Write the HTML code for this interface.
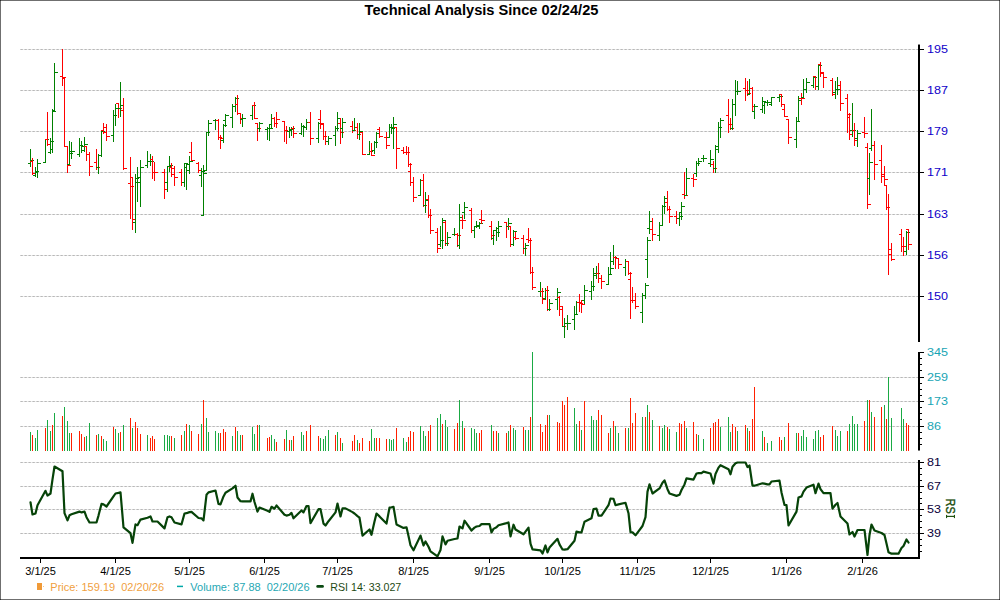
<!DOCTYPE html>
<html><head><meta charset="utf-8"><title>Technical Analysis</title>
<style>html,body{margin:0;padding:0;background:#fff;}svg{display:block;}text{font-family:"Liberation Sans",sans-serif;}</style>
</head><body>
<svg width="1000" height="600" viewBox="0 0 1000 600">
<rect x="0" y="0" width="1000" height="600" fill="#fff"/>
<g shape-rendering="crispEdges" fill="#6f6f6f">
<rect x="0" y="0" width="1000" height="1"/><rect x="0" y="599" width="1000" height="1"/>
<rect x="0" y="0" width="1" height="600"/><rect x="999" y="0" width="1" height="600"/>
</g>
<g shape-rendering="crispEdges" fill="#303030"><rect x="0" y="0" width="1" height="1"/><rect x="999" y="0" width="1" height="1"/><rect x="0" y="599" width="1" height="1"/><rect x="999" y="599" width="1" height="1"/></g>
<text x="481.5" y="14.6" text-anchor="middle" font-size="14.62px" font-weight="bold" fill="#000">Technical Analysis Since 02/24/25</text>
<defs><pattern id="gp" x="20" y="0" width="4" height="1" patternUnits="userSpaceOnUse"><rect x="0" y="0" width="1" height="1" fill="#d0d0d0"/><rect x="1" y="0" width="1" height="1" fill="#b8b8b8"/><rect x="2" y="0" width="1" height="1" fill="#c4c4c4"/><rect x="3" y="0" width="1" height="1" fill="#efefef"/></pattern></defs>
<g shape-rendering="crispEdges" fill="url(#gp)">
<rect x="20" y="49" width="898" height="1"/>
<rect x="20" y="90" width="898" height="1"/>
<rect x="20" y="131" width="898" height="1"/>
<rect x="20" y="172" width="898" height="1"/>
<rect x="20" y="214" width="898" height="1"/>
<rect x="20" y="255" width="898" height="1"/>
<rect x="20" y="296" width="898" height="1"/>
<rect x="20" y="377" width="898" height="1"/>
<rect x="20" y="401" width="898" height="1"/>
<rect x="20" y="426" width="898" height="1"/>
<rect x="20" y="462" width="898" height="1"/>
<rect x="20" y="486" width="898" height="1"/>
<rect x="20" y="509" width="898" height="1"/>
<rect x="20" y="533" width="898" height="1"/>
</g>
<g shape-rendering="crispEdges">
<rect x="30" y="432" width="1" height="19" fill="#1aaa44"/>
<rect x="32" y="435" width="1" height="16" fill="#ff2000"/>
<rect x="35" y="438" width="1" height="13" fill="#1aaa44"/>
<rect x="37" y="430" width="1" height="21" fill="#1aaa44"/>
<rect x="45" y="428" width="1" height="23" fill="#ff2000"/>
<rect x="47" y="420" width="1" height="31" fill="#1aaa44"/>
<rect x="50" y="431" width="1" height="20" fill="#1aaa44"/>
<rect x="52" y="425" width="1" height="26" fill="#ff2000"/>
<rect x="54" y="413" width="1" height="38" fill="#1aaa44"/>
<rect x="62" y="416" width="1" height="35" fill="#ff2000"/>
<rect x="64" y="407" width="1" height="44" fill="#1aaa44"/>
<rect x="67" y="421" width="1" height="30" fill="#1aaa44"/>
<rect x="69" y="433" width="1" height="18" fill="#1aaa44"/>
<rect x="71" y="433" width="1" height="18" fill="#ff2000"/>
<rect x="79" y="431" width="1" height="20" fill="#ff2000"/>
<rect x="81" y="434" width="1" height="17" fill="#ff2000"/>
<rect x="84" y="437" width="1" height="14" fill="#ff2000"/>
<rect x="86" y="436" width="1" height="15" fill="#1aaa44"/>
<rect x="89" y="423" width="1" height="28" fill="#1aaa44"/>
<rect x="96" y="435" width="1" height="16" fill="#ff2000"/>
<rect x="98" y="434" width="1" height="17" fill="#1aaa44"/>
<rect x="101" y="436" width="1" height="15" fill="#ff2000"/>
<rect x="103" y="439" width="1" height="12" fill="#1aaa44"/>
<rect x="106" y="441" width="1" height="10" fill="#1aaa44"/>
<rect x="113" y="427" width="1" height="24" fill="#ff2000"/>
<rect x="115" y="429" width="1" height="22" fill="#1aaa44"/>
<rect x="118" y="433" width="1" height="18" fill="#1aaa44"/>
<rect x="120" y="432" width="1" height="19" fill="#ff2000"/>
<rect x="123" y="425" width="1" height="26" fill="#1aaa44"/>
<rect x="130" y="418" width="1" height="33" fill="#ff2000"/>
<rect x="132" y="428" width="1" height="23" fill="#1aaa44"/>
<rect x="135" y="422" width="1" height="29" fill="#ff2000"/>
<rect x="137" y="428" width="1" height="23" fill="#ff2000"/>
<rect x="140" y="434" width="1" height="17" fill="#ff2000"/>
<rect x="147" y="435" width="1" height="16" fill="#1aaa44"/>
<rect x="150" y="438" width="1" height="13" fill="#ff2000"/>
<rect x="152" y="436" width="1" height="15" fill="#ff2000"/>
<rect x="154" y="439" width="1" height="12" fill="#ff2000"/>
<rect x="164" y="435" width="1" height="16" fill="#1aaa44"/>
<rect x="167" y="435" width="1" height="16" fill="#1aaa44"/>
<rect x="169" y="436" width="1" height="15" fill="#1aaa44"/>
<rect x="171" y="436" width="1" height="15" fill="#ff2000"/>
<rect x="174" y="438" width="1" height="13" fill="#1aaa44"/>
<rect x="181" y="435" width="1" height="16" fill="#ff2000"/>
<rect x="184" y="431" width="1" height="20" fill="#1aaa44"/>
<rect x="186" y="424" width="1" height="27" fill="#ff2000"/>
<rect x="189" y="425" width="1" height="26" fill="#1aaa44"/>
<rect x="191" y="431" width="1" height="20" fill="#ff2000"/>
<rect x="198" y="434" width="1" height="17" fill="#ff2000"/>
<rect x="201" y="424" width="1" height="27" fill="#1aaa44"/>
<rect x="203" y="400" width="1" height="51" fill="#ff2000"/>
<rect x="206" y="418" width="1" height="33" fill="#1aaa44"/>
<rect x="208" y="432" width="1" height="19" fill="#1aaa44"/>
<rect x="215" y="431" width="1" height="20" fill="#1aaa44"/>
<rect x="218" y="433" width="1" height="18" fill="#1aaa44"/>
<rect x="220" y="433" width="1" height="18" fill="#ff2000"/>
<rect x="223" y="429" width="1" height="22" fill="#ff2000"/>
<rect x="225" y="432" width="1" height="19" fill="#ff2000"/>
<rect x="232" y="436" width="1" height="15" fill="#1aaa44"/>
<rect x="235" y="427" width="1" height="24" fill="#ff2000"/>
<rect x="237" y="431" width="1" height="20" fill="#1aaa44"/>
<rect x="240" y="435" width="1" height="16" fill="#1aaa44"/>
<rect x="242" y="435" width="1" height="16" fill="#ff2000"/>
<rect x="252" y="427" width="1" height="24" fill="#1aaa44"/>
<rect x="254" y="434" width="1" height="17" fill="#1aaa44"/>
<rect x="257" y="425" width="1" height="26" fill="#ff2000"/>
<rect x="259" y="425" width="1" height="26" fill="#1aaa44"/>
<rect x="267" y="438" width="1" height="13" fill="#ff2000"/>
<rect x="269" y="437" width="1" height="14" fill="#ff2000"/>
<rect x="271" y="435" width="1" height="16" fill="#1aaa44"/>
<rect x="274" y="439" width="1" height="12" fill="#1aaa44"/>
<rect x="276" y="442" width="1" height="9" fill="#ff2000"/>
<rect x="284" y="439" width="1" height="12" fill="#ff2000"/>
<rect x="286" y="430" width="1" height="21" fill="#1aaa44"/>
<rect x="289" y="440" width="1" height="11" fill="#ff2000"/>
<rect x="291" y="440" width="1" height="11" fill="#1aaa44"/>
<rect x="293" y="436" width="1" height="15" fill="#ff2000"/>
<rect x="301" y="432" width="1" height="19" fill="#1aaa44"/>
<rect x="303" y="435" width="1" height="16" fill="#1aaa44"/>
<rect x="306" y="431" width="1" height="20" fill="#ff2000"/>
<rect x="310" y="425" width="1" height="26" fill="#ff2000"/>
<rect x="318" y="436" width="1" height="15" fill="#ff2000"/>
<rect x="320" y="438" width="1" height="13" fill="#1aaa44"/>
<rect x="323" y="439" width="1" height="12" fill="#1aaa44"/>
<rect x="325" y="436" width="1" height="15" fill="#1aaa44"/>
<rect x="328" y="430" width="1" height="21" fill="#1aaa44"/>
<rect x="335" y="435" width="1" height="16" fill="#ff2000"/>
<rect x="337" y="432" width="1" height="19" fill="#1aaa44"/>
<rect x="340" y="438" width="1" height="13" fill="#ff2000"/>
<rect x="342" y="443" width="1" height="8" fill="#1aaa44"/>
<rect x="352" y="441" width="1" height="10" fill="#ff2000"/>
<rect x="354" y="435" width="1" height="16" fill="#ff2000"/>
<rect x="357" y="440" width="1" height="11" fill="#1aaa44"/>
<rect x="359" y="443" width="1" height="8" fill="#ff2000"/>
<rect x="362" y="438" width="1" height="13" fill="#ff2000"/>
<rect x="369" y="441" width="1" height="10" fill="#ff2000"/>
<rect x="371" y="429" width="1" height="22" fill="#1aaa44"/>
<rect x="374" y="438" width="1" height="13" fill="#1aaa44"/>
<rect x="376" y="438" width="1" height="13" fill="#ff2000"/>
<rect x="379" y="438" width="1" height="13" fill="#ff2000"/>
<rect x="386" y="439" width="1" height="12" fill="#ff2000"/>
<rect x="389" y="439" width="1" height="12" fill="#1aaa44"/>
<rect x="391" y="440" width="1" height="11" fill="#1aaa44"/>
<rect x="393" y="439" width="1" height="12" fill="#1aaa44"/>
<rect x="396" y="428" width="1" height="23" fill="#ff2000"/>
<rect x="403" y="438" width="1" height="13" fill="#1aaa44"/>
<rect x="406" y="442" width="1" height="9" fill="#1aaa44"/>
<rect x="408" y="437" width="1" height="14" fill="#ff2000"/>
<rect x="410" y="431" width="1" height="20" fill="#ff2000"/>
<rect x="413" y="432" width="1" height="19" fill="#ff2000"/>
<rect x="420" y="426" width="1" height="25" fill="#1aaa44"/>
<rect x="423" y="431" width="1" height="20" fill="#1aaa44"/>
<rect x="425" y="436" width="1" height="15" fill="#1aaa44"/>
<rect x="428" y="431" width="1" height="20" fill="#ff2000"/>
<rect x="430" y="425" width="1" height="26" fill="#ff2000"/>
<rect x="437" y="418" width="1" height="33" fill="#1aaa44"/>
<rect x="440" y="414" width="1" height="37" fill="#1aaa44"/>
<rect x="442" y="424" width="1" height="27" fill="#ff2000"/>
<rect x="445" y="420" width="1" height="31" fill="#1aaa44"/>
<rect x="447" y="427" width="1" height="24" fill="#1aaa44"/>
<rect x="454" y="429" width="1" height="22" fill="#ff2000"/>
<rect x="457" y="423" width="1" height="28" fill="#ff2000"/>
<rect x="459" y="400" width="1" height="51" fill="#1aaa44"/>
<rect x="462" y="421" width="1" height="30" fill="#1aaa44"/>
<rect x="464" y="428" width="1" height="23" fill="#ff2000"/>
<rect x="471" y="428" width="1" height="23" fill="#1aaa44"/>
<rect x="474" y="429" width="1" height="22" fill="#1aaa44"/>
<rect x="476" y="433" width="1" height="18" fill="#1aaa44"/>
<rect x="479" y="433" width="1" height="18" fill="#ff2000"/>
<rect x="481" y="430" width="1" height="21" fill="#ff2000"/>
<rect x="491" y="425" width="1" height="26" fill="#1aaa44"/>
<rect x="493" y="431" width="1" height="20" fill="#ff2000"/>
<rect x="496" y="431" width="1" height="20" fill="#ff2000"/>
<rect x="498" y="433" width="1" height="18" fill="#1aaa44"/>
<rect x="506" y="433" width="1" height="18" fill="#ff2000"/>
<rect x="508" y="431" width="1" height="20" fill="#1aaa44"/>
<rect x="510" y="425" width="1" height="26" fill="#ff2000"/>
<rect x="513" y="428" width="1" height="23" fill="#1aaa44"/>
<rect x="515" y="430" width="1" height="21" fill="#1aaa44"/>
<rect x="523" y="427" width="1" height="24" fill="#ff2000"/>
<rect x="525" y="430" width="1" height="21" fill="#1aaa44"/>
<rect x="528" y="430" width="1" height="21" fill="#1aaa44"/>
<rect x="530" y="417" width="1" height="34" fill="#ff2000"/>
<rect x="532" y="352" width="1" height="99" fill="#1aaa44"/>
<rect x="540" y="424" width="1" height="27" fill="#ff2000"/>
<rect x="542" y="432" width="1" height="19" fill="#ff2000"/>
<rect x="545" y="425" width="1" height="26" fill="#ff2000"/>
<rect x="547" y="415" width="1" height="36" fill="#ff2000"/>
<rect x="549" y="415" width="1" height="36" fill="#1aaa44"/>
<rect x="557" y="422" width="1" height="29" fill="#ff2000"/>
<rect x="559" y="423" width="1" height="28" fill="#ff2000"/>
<rect x="562" y="401" width="1" height="50" fill="#ff2000"/>
<rect x="564" y="405" width="1" height="46" fill="#ff2000"/>
<rect x="567" y="397" width="1" height="54" fill="#ff2000"/>
<rect x="574" y="408" width="1" height="43" fill="#1aaa44"/>
<rect x="576" y="424" width="1" height="27" fill="#1aaa44"/>
<rect x="579" y="421" width="1" height="30" fill="#ff2000"/>
<rect x="581" y="430" width="1" height="21" fill="#1aaa44"/>
<rect x="584" y="401" width="1" height="50" fill="#ff2000"/>
<rect x="591" y="416" width="1" height="35" fill="#1aaa44"/>
<rect x="593" y="420" width="1" height="31" fill="#1aaa44"/>
<rect x="596" y="420" width="1" height="31" fill="#1aaa44"/>
<rect x="598" y="410" width="1" height="41" fill="#ff2000"/>
<rect x="601" y="415" width="1" height="36" fill="#ff2000"/>
<rect x="608" y="433" width="1" height="18" fill="#ff2000"/>
<rect x="610" y="428" width="1" height="23" fill="#1aaa44"/>
<rect x="613" y="421" width="1" height="30" fill="#ff2000"/>
<rect x="615" y="426" width="1" height="25" fill="#1aaa44"/>
<rect x="618" y="433" width="1" height="18" fill="#1aaa44"/>
<rect x="625" y="428" width="1" height="23" fill="#ff2000"/>
<rect x="628" y="428" width="1" height="23" fill="#1aaa44"/>
<rect x="630" y="398" width="1" height="53" fill="#ff2000"/>
<rect x="632" y="423" width="1" height="28" fill="#ff2000"/>
<rect x="635" y="413" width="1" height="38" fill="#ff2000"/>
<rect x="642" y="417" width="1" height="34" fill="#1aaa44"/>
<rect x="645" y="417" width="1" height="34" fill="#ff2000"/>
<rect x="647" y="405" width="1" height="46" fill="#1aaa44"/>
<rect x="649" y="412" width="1" height="39" fill="#ff2000"/>
<rect x="652" y="420" width="1" height="31" fill="#1aaa44"/>
<rect x="659" y="426" width="1" height="25" fill="#ff2000"/>
<rect x="662" y="428" width="1" height="23" fill="#1aaa44"/>
<rect x="664" y="425" width="1" height="26" fill="#1aaa44"/>
<rect x="667" y="427" width="1" height="24" fill="#ff2000"/>
<rect x="669" y="429" width="1" height="22" fill="#1aaa44"/>
<rect x="676" y="432" width="1" height="19" fill="#1aaa44"/>
<rect x="679" y="423" width="1" height="28" fill="#ff2000"/>
<rect x="681" y="424" width="1" height="27" fill="#ff2000"/>
<rect x="684" y="421" width="1" height="30" fill="#ff2000"/>
<rect x="686" y="428" width="1" height="23" fill="#1aaa44"/>
<rect x="693" y="422" width="1" height="29" fill="#ff2000"/>
<rect x="696" y="434" width="1" height="17" fill="#ff2000"/>
<rect x="698" y="435" width="1" height="16" fill="#1aaa44"/>
<rect x="703" y="439" width="1" height="12" fill="#1aaa44"/>
<rect x="710" y="428" width="1" height="23" fill="#ff2000"/>
<rect x="713" y="423" width="1" height="28" fill="#ff2000"/>
<rect x="715" y="422" width="1" height="29" fill="#ff2000"/>
<rect x="718" y="419" width="1" height="32" fill="#ff2000"/>
<rect x="720" y="427" width="1" height="24" fill="#1aaa44"/>
<rect x="728" y="417" width="1" height="34" fill="#1aaa44"/>
<rect x="730" y="432" width="1" height="19" fill="#1aaa44"/>
<rect x="732" y="424" width="1" height="27" fill="#ff2000"/>
<rect x="735" y="427" width="1" height="24" fill="#ff2000"/>
<rect x="737" y="431" width="1" height="20" fill="#1aaa44"/>
<rect x="745" y="425" width="1" height="26" fill="#ff2000"/>
<rect x="747" y="428" width="1" height="23" fill="#1aaa44"/>
<rect x="749" y="431" width="1" height="20" fill="#ff2000"/>
<rect x="752" y="419" width="1" height="32" fill="#ff2000"/>
<rect x="754" y="387" width="1" height="64" fill="#ff2000"/>
<rect x="762" y="431" width="1" height="20" fill="#1aaa44"/>
<rect x="764" y="437" width="1" height="14" fill="#ff2000"/>
<rect x="767" y="443" width="1" height="8" fill="#1aaa44"/>
<rect x="771" y="441" width="1" height="10" fill="#1aaa44"/>
<rect x="779" y="437" width="1" height="14" fill="#ff2000"/>
<rect x="781" y="440" width="1" height="11" fill="#ff2000"/>
<rect x="784" y="437" width="1" height="14" fill="#1aaa44"/>
<rect x="788" y="423" width="1" height="28" fill="#ff2000"/>
<rect x="796" y="433" width="1" height="18" fill="#1aaa44"/>
<rect x="798" y="433" width="1" height="18" fill="#ff2000"/>
<rect x="801" y="436" width="1" height="15" fill="#1aaa44"/>
<rect x="803" y="430" width="1" height="21" fill="#1aaa44"/>
<rect x="806" y="437" width="1" height="14" fill="#1aaa44"/>
<rect x="813" y="439" width="1" height="12" fill="#1aaa44"/>
<rect x="815" y="431" width="1" height="20" fill="#1aaa44"/>
<rect x="818" y="430" width="1" height="21" fill="#1aaa44"/>
<rect x="820" y="437" width="1" height="14" fill="#ff2000"/>
<rect x="823" y="435" width="1" height="16" fill="#ff2000"/>
<rect x="832" y="426" width="1" height="25" fill="#ff2000"/>
<rect x="835" y="430" width="1" height="21" fill="#1aaa44"/>
<rect x="837" y="436" width="1" height="15" fill="#1aaa44"/>
<rect x="840" y="431" width="1" height="20" fill="#1aaa44"/>
<rect x="847" y="431" width="1" height="20" fill="#ff2000"/>
<rect x="849" y="424" width="1" height="27" fill="#1aaa44"/>
<rect x="852" y="416" width="1" height="35" fill="#1aaa44"/>
<rect x="854" y="424" width="1" height="27" fill="#1aaa44"/>
<rect x="857" y="424" width="1" height="27" fill="#1aaa44"/>
<rect x="864" y="421" width="1" height="30" fill="#ff2000"/>
<rect x="867" y="400" width="1" height="51" fill="#1aaa44"/>
<rect x="869" y="400" width="1" height="51" fill="#ff2000"/>
<rect x="871" y="412" width="1" height="39" fill="#1aaa44"/>
<rect x="874" y="417" width="1" height="34" fill="#ff2000"/>
<rect x="881" y="407" width="1" height="44" fill="#ff2000"/>
<rect x="884" y="405" width="1" height="46" fill="#1aaa44"/>
<rect x="886" y="419" width="1" height="32" fill="#ff2000"/>
<rect x="888" y="377" width="1" height="74" fill="#1aaa44"/>
<rect x="891" y="418" width="1" height="33" fill="#1aaa44"/>
<rect x="901" y="408" width="1" height="43" fill="#1aaa44"/>
<rect x="903" y="419" width="1" height="32" fill="#1aaa44"/>
<rect x="906" y="423" width="1" height="28" fill="#ff2000"/>
<rect x="908" y="425" width="1" height="26" fill="#ff2000"/>
</g>
<g shape-rendering="crispEdges">
<g fill="#008000"><rect x="30" y="149" width="1" height="18"/><rect x="28" y="163" width="2" height="1"/><rect x="31" y="160" width="3" height="1"/></g>
<g fill="#ff0000"><rect x="32" y="158" width="1" height="17"/><rect x="30" y="161" width="2" height="1"/><rect x="33" y="173" width="3" height="1"/></g>
<g fill="#008000"><rect x="35" y="167" width="1" height="10"/><rect x="33" y="175" width="2" height="1"/><rect x="36" y="171" width="3" height="1"/></g>
<g fill="#008000"><rect x="37" y="159" width="1" height="19"/><rect x="35" y="172" width="2" height="1"/><rect x="38" y="163" width="3" height="1"/></g>
<g fill="#008000"><rect x="45" y="139" width="1" height="24"/><rect x="43" y="162" width="2" height="1"/><rect x="46" y="139" width="3" height="1"/></g>
<g fill="#ff0000"><rect x="47" y="112" width="1" height="34"/><rect x="45" y="139" width="2" height="1"/><rect x="48" y="144" width="3" height="1"/></g>
<g fill="#008000"><rect x="50" y="138" width="1" height="16"/><rect x="48" y="152" width="2" height="1"/><rect x="51" y="141" width="3" height="1"/></g>
<g fill="#008000"><rect x="52" y="109" width="1" height="44"/><rect x="50" y="149" width="2" height="1"/><rect x="53" y="111" width="3" height="1"/></g>
<g fill="#008000"><rect x="54" y="63" width="1" height="48"/><rect x="52" y="110" width="2" height="1"/><rect x="55" y="72" width="3" height="1"/></g>
<g fill="#ff0000"><rect x="62" y="49" width="1" height="37"/><rect x="60" y="76" width="2" height="1"/><rect x="63" y="77" width="3" height="1"/></g>
<g fill="#ff0000"><rect x="64" y="78" width="1" height="69"/><rect x="62" y="78" width="2" height="1"/><rect x="65" y="146" width="3" height="1"/></g>
<g fill="#ff0000"><rect x="67" y="146" width="1" height="27"/><rect x="65" y="146" width="2" height="1"/><rect x="68" y="165" width="3" height="1"/></g>
<g fill="#008000"><rect x="69" y="141" width="1" height="24"/><rect x="67" y="164" width="2" height="1"/><rect x="70" y="153" width="3" height="1"/></g>
<g fill="#008000"><rect x="71" y="142" width="1" height="17"/><rect x="69" y="151" width="2" height="1"/><rect x="72" y="151" width="3" height="1"/></g>
<g fill="#008000"><rect x="79" y="138" width="1" height="19"/><rect x="77" y="154" width="2" height="1"/><rect x="80" y="145" width="3" height="1"/></g>
<g fill="#008000"><rect x="81" y="141" width="1" height="12"/><rect x="79" y="145" width="2" height="1"/><rect x="82" y="146" width="3" height="1"/></g>
<g fill="#008000"><rect x="84" y="137" width="1" height="15"/><rect x="82" y="150" width="2" height="1"/><rect x="85" y="144" width="3" height="1"/></g>
<g fill="#ff0000"><rect x="86" y="146" width="1" height="15"/><rect x="84" y="146" width="2" height="1"/><rect x="87" y="154" width="3" height="1"/></g>
<g fill="#ff0000"><rect x="89" y="152" width="1" height="24"/><rect x="87" y="154" width="2" height="1"/><rect x="90" y="166" width="3" height="1"/></g>
<g fill="#ff0000"><rect x="96" y="149" width="1" height="21"/><rect x="94" y="162" width="2" height="1"/><rect x="97" y="167" width="3" height="1"/></g>
<g fill="#008000"><rect x="98" y="154" width="1" height="20"/><rect x="96" y="167" width="2" height="1"/><rect x="99" y="155" width="3" height="1"/></g>
<g fill="#008000"><rect x="101" y="131" width="1" height="26"/><rect x="99" y="155" width="2" height="1"/><rect x="102" y="131" width="3" height="1"/></g>
<g fill="#ff0000"><rect x="103" y="123" width="1" height="11"/><rect x="101" y="130" width="2" height="1"/><rect x="104" y="132" width="3" height="1"/></g>
<g fill="#ff0000"><rect x="106" y="124" width="1" height="17"/><rect x="104" y="127" width="2" height="1"/><rect x="107" y="136" width="3" height="1"/></g>
<g fill="#008000"><rect x="113" y="110" width="1" height="32"/><rect x="111" y="135" width="2" height="1"/><rect x="114" y="115" width="3" height="1"/></g>
<g fill="#008000"><rect x="115" y="104" width="1" height="22"/><rect x="113" y="115" width="2" height="1"/><rect x="116" y="108" width="3" height="1"/></g>
<g fill="#ff0000"><rect x="118" y="103" width="1" height="15"/><rect x="116" y="103" width="2" height="1"/><rect x="119" y="108" width="3" height="1"/></g>
<g fill="#008000"><rect x="120" y="82" width="1" height="35"/><rect x="118" y="108" width="2" height="1"/><rect x="121" y="105" width="3" height="1"/></g>
<g fill="#ff0000"><rect x="123" y="98" width="1" height="72"/><rect x="121" y="110" width="2" height="1"/><rect x="124" y="168" width="3" height="1"/></g>
<g fill="#ff0000"><rect x="130" y="157" width="1" height="62"/><rect x="128" y="183" width="2" height="1"/><rect x="131" y="186" width="3" height="1"/></g>
<g fill="#ff0000"><rect x="132" y="177" width="1" height="53"/><rect x="130" y="177" width="2" height="1"/><rect x="133" y="219" width="3" height="1"/></g>
<g fill="#008000"><rect x="135" y="174" width="1" height="59"/><rect x="133" y="222" width="2" height="1"/><rect x="136" y="178" width="3" height="1"/></g>
<g fill="#008000"><rect x="137" y="167" width="1" height="35"/><rect x="135" y="182" width="2" height="1"/><rect x="138" y="177" width="3" height="1"/></g>
<g fill="#008000"><rect x="140" y="160" width="1" height="47"/><rect x="138" y="182" width="2" height="1"/><rect x="141" y="167" width="3" height="1"/></g>
<g fill="#008000"><rect x="147" y="151" width="1" height="17"/><rect x="145" y="165" width="2" height="1"/><rect x="148" y="161" width="3" height="1"/></g>
<g fill="#008000"><rect x="150" y="154" width="1" height="12"/><rect x="148" y="161" width="2" height="1"/><rect x="151" y="161" width="3" height="1"/></g>
<g fill="#ff0000"><rect x="152" y="156" width="1" height="23"/><rect x="150" y="159" width="2" height="1"/><rect x="153" y="172" width="3" height="1"/></g>
<g fill="#ff0000"><rect x="154" y="162" width="1" height="19"/><rect x="152" y="172" width="2" height="1"/><rect x="155" y="172" width="3" height="1"/></g>
<g fill="#ff0000"><rect x="164" y="169" width="1" height="30"/><rect x="162" y="172" width="2" height="1"/><rect x="165" y="189" width="3" height="1"/></g>
<g fill="#008000"><rect x="167" y="166" width="1" height="26"/><rect x="165" y="182" width="2" height="1"/><rect x="168" y="166" width="3" height="1"/></g>
<g fill="#008000"><rect x="169" y="156" width="1" height="16"/><rect x="167" y="166" width="2" height="1"/><rect x="170" y="165" width="3" height="1"/></g>
<g fill="#ff0000"><rect x="171" y="163" width="1" height="14"/><rect x="169" y="167" width="2" height="1"/><rect x="172" y="174" width="3" height="1"/></g>
<g fill="#ff0000"><rect x="174" y="166" width="1" height="20"/><rect x="172" y="168" width="2" height="1"/><rect x="175" y="177" width="3" height="1"/></g>
<g fill="#ff0000"><rect x="181" y="169" width="1" height="17"/><rect x="179" y="172" width="2" height="1"/><rect x="182" y="182" width="3" height="1"/></g>
<g fill="#008000"><rect x="184" y="163" width="1" height="24"/><rect x="182" y="182" width="2" height="1"/><rect x="185" y="163" width="3" height="1"/></g>
<g fill="#008000"><rect x="186" y="164" width="1" height="26"/><rect x="184" y="167" width="2" height="1"/><rect x="187" y="164" width="3" height="1"/></g>
<g fill="#008000"><rect x="189" y="156" width="1" height="18"/><rect x="187" y="170" width="2" height="1"/><rect x="190" y="161" width="3" height="1"/></g>
<g fill="#ff0000"><rect x="191" y="142" width="1" height="19"/><rect x="189" y="152" width="2" height="1"/><rect x="192" y="160" width="3" height="1"/></g>
<g fill="#ff0000"><rect x="198" y="162" width="1" height="11"/><rect x="196" y="163" width="2" height="1"/><rect x="199" y="170" width="3" height="1"/></g>
<g fill="#008000"><rect x="201" y="168" width="1" height="19"/><rect x="199" y="175" width="2" height="1"/><rect x="202" y="171" width="3" height="1"/></g>
<g fill="#008000"><rect x="203" y="165" width="1" height="51"/><rect x="201" y="215" width="2" height="1"/><rect x="204" y="173" width="3" height="1"/></g>
<g fill="#008000"><rect x="206" y="132" width="1" height="39"/><rect x="204" y="170" width="2" height="1"/><rect x="207" y="132" width="3" height="1"/></g>
<g fill="#008000"><rect x="208" y="120" width="1" height="16"/><rect x="206" y="132" width="2" height="1"/><rect x="209" y="123" width="3" height="1"/></g>
<g fill="#008000"><rect x="215" y="119" width="1" height="11"/><rect x="213" y="120" width="2" height="1"/><rect x="216" y="120" width="3" height="1"/></g>
<g fill="#ff0000"><rect x="218" y="119" width="1" height="21"/><rect x="216" y="120" width="2" height="1"/><rect x="219" y="137" width="3" height="1"/></g>
<g fill="#ff0000"><rect x="220" y="135" width="1" height="14"/><rect x="218" y="137" width="2" height="1"/><rect x="221" y="138" width="3" height="1"/></g>
<g fill="#008000"><rect x="223" y="124" width="1" height="19"/><rect x="221" y="140" width="2" height="1"/><rect x="224" y="125" width="3" height="1"/></g>
<g fill="#008000"><rect x="225" y="114" width="1" height="13"/><rect x="223" y="120" width="2" height="1"/><rect x="226" y="115" width="3" height="1"/></g>
<g fill="#008000"><rect x="232" y="104" width="1" height="24"/><rect x="230" y="117" width="2" height="1"/><rect x="233" y="106" width="3" height="1"/></g>
<g fill="#008000"><rect x="235" y="97" width="1" height="15"/><rect x="233" y="106" width="2" height="1"/><rect x="236" y="98" width="3" height="1"/></g>
<g fill="#ff0000"><rect x="237" y="95" width="1" height="20"/><rect x="235" y="104" width="2" height="1"/><rect x="238" y="113" width="3" height="1"/></g>
<g fill="#ff0000"><rect x="240" y="113" width="1" height="11"/><rect x="238" y="113" width="2" height="1"/><rect x="241" y="118" width="3" height="1"/></g>
<g fill="#008000"><rect x="242" y="114" width="1" height="13"/><rect x="240" y="119" width="2" height="1"/><rect x="243" y="118" width="3" height="1"/></g>
<g fill="#008000"><rect x="252" y="105" width="1" height="15"/><rect x="250" y="115" width="2" height="1"/><rect x="253" y="105" width="3" height="1"/></g>
<g fill="#ff0000"><rect x="254" y="102" width="1" height="17"/><rect x="252" y="105" width="2" height="1"/><rect x="255" y="118" width="3" height="1"/></g>
<g fill="#ff0000"><rect x="257" y="123" width="1" height="18"/><rect x="255" y="123" width="2" height="1"/><rect x="258" y="128" width="3" height="1"/></g>
<g fill="#008000"><rect x="259" y="122" width="1" height="10"/><rect x="257" y="128" width="2" height="1"/><rect x="260" y="123" width="3" height="1"/></g>
<g fill="#008000"><rect x="267" y="127" width="1" height="13"/><rect x="265" y="129" width="2" height="1"/><rect x="268" y="128" width="3" height="1"/></g>
<g fill="#008000"><rect x="269" y="124" width="1" height="17"/><rect x="267" y="128" width="2" height="1"/><rect x="270" y="128" width="3" height="1"/></g>
<g fill="#008000"><rect x="271" y="114" width="1" height="15"/><rect x="269" y="124" width="2" height="1"/><rect x="272" y="118" width="3" height="1"/></g>
<g fill="#ff0000"><rect x="274" y="117" width="1" height="10"/><rect x="272" y="118" width="2" height="1"/><rect x="275" y="123" width="3" height="1"/></g>
<g fill="#ff0000"><rect x="276" y="112" width="1" height="16"/><rect x="274" y="123" width="2" height="1"/><rect x="277" y="119" width="3" height="1"/></g>
<g fill="#ff0000"><rect x="284" y="121" width="1" height="21"/><rect x="282" y="121" width="2" height="1"/><rect x="285" y="130" width="3" height="1"/></g>
<g fill="#ff0000"><rect x="286" y="126" width="1" height="18"/><rect x="284" y="130" width="2" height="1"/><rect x="287" y="131" width="3" height="1"/></g>
<g fill="#008000"><rect x="289" y="127" width="1" height="11"/><rect x="287" y="131" width="2" height="1"/><rect x="290" y="129" width="3" height="1"/></g>
<g fill="#008000"><rect x="291" y="127" width="1" height="9"/><rect x="289" y="130" width="2" height="1"/><rect x="292" y="128" width="3" height="1"/></g>
<g fill="#ff0000"><rect x="293" y="126" width="1" height="12"/><rect x="291" y="128" width="2" height="1"/><rect x="294" y="133" width="3" height="1"/></g>
<g fill="#008000"><rect x="301" y="123" width="1" height="12"/><rect x="299" y="133" width="2" height="1"/><rect x="302" y="126" width="3" height="1"/></g>
<g fill="#008000"><rect x="303" y="125" width="1" height="12"/><rect x="301" y="126" width="2" height="1"/><rect x="304" y="127" width="3" height="1"/></g>
<g fill="#008000"><rect x="306" y="119" width="1" height="11"/><rect x="304" y="127" width="2" height="1"/><rect x="307" y="122" width="3" height="1"/></g>
<g fill="#ff0000"><rect x="310" y="112" width="1" height="33"/><rect x="308" y="122" width="2" height="1"/><rect x="311" y="138" width="3" height="1"/></g>
<g fill="#008000"><rect x="318" y="122" width="1" height="21"/><rect x="316" y="138" width="2" height="1"/><rect x="319" y="123" width="3" height="1"/></g>
<g fill="#ff0000"><rect x="320" y="110" width="1" height="19"/><rect x="318" y="119" width="2" height="1"/><rect x="321" y="123" width="3" height="1"/></g>
<g fill="#ff0000"><rect x="323" y="124" width="1" height="16"/><rect x="321" y="124" width="2" height="1"/><rect x="324" y="136" width="3" height="1"/></g>
<g fill="#ff0000"><rect x="325" y="131" width="1" height="14"/><rect x="323" y="136" width="2" height="1"/><rect x="326" y="141" width="3" height="1"/></g>
<g fill="#008000"><rect x="328" y="136" width="1" height="9"/><rect x="326" y="141" width="2" height="1"/><rect x="329" y="138" width="3" height="1"/></g>
<g fill="#008000"><rect x="335" y="126" width="1" height="20"/><rect x="333" y="135" width="2" height="1"/><rect x="336" y="128" width="3" height="1"/></g>
<g fill="#008000"><rect x="337" y="112" width="1" height="19"/><rect x="335" y="128" width="2" height="1"/><rect x="338" y="118" width="3" height="1"/></g>
<g fill="#ff0000"><rect x="340" y="118" width="1" height="26"/><rect x="338" y="123" width="2" height="1"/><rect x="341" y="132" width="3" height="1"/></g>
<g fill="#008000"><rect x="342" y="118" width="1" height="20"/><rect x="340" y="128" width="2" height="1"/><rect x="343" y="122" width="3" height="1"/></g>
<g fill="#ff0000"><rect x="352" y="121" width="1" height="12"/><rect x="350" y="126" width="2" height="1"/><rect x="353" y="130" width="3" height="1"/></g>
<g fill="#008000"><rect x="354" y="118" width="1" height="13"/><rect x="352" y="130" width="2" height="1"/><rect x="355" y="127" width="3" height="1"/></g>
<g fill="#ff0000"><rect x="357" y="123" width="1" height="16"/><rect x="355" y="127" width="2" height="1"/><rect x="358" y="134" width="3" height="1"/></g>
<g fill="#008000"><rect x="359" y="123" width="1" height="17"/><rect x="357" y="134" width="2" height="1"/><rect x="360" y="131" width="3" height="1"/></g>
<g fill="#ff0000"><rect x="362" y="132" width="1" height="23"/><rect x="360" y="132" width="2" height="1"/><rect x="363" y="154" width="3" height="1"/></g>
<g fill="#008000"><rect x="369" y="141" width="1" height="14"/><rect x="367" y="154" width="2" height="1"/><rect x="370" y="151" width="3" height="1"/></g>
<g fill="#ff0000"><rect x="371" y="143" width="1" height="13"/><rect x="369" y="151" width="2" height="1"/><rect x="372" y="155" width="3" height="1"/></g>
<g fill="#008000"><rect x="374" y="141" width="1" height="13"/><rect x="372" y="150" width="2" height="1"/><rect x="375" y="142" width="3" height="1"/></g>
<g fill="#008000"><rect x="376" y="132" width="1" height="16"/><rect x="374" y="142" width="2" height="1"/><rect x="377" y="133" width="3" height="1"/></g>
<g fill="#ff0000"><rect x="379" y="127" width="1" height="11"/><rect x="377" y="129" width="2" height="1"/><rect x="380" y="136" width="3" height="1"/></g>
<g fill="#ff0000"><rect x="386" y="132" width="1" height="17"/><rect x="384" y="137" width="2" height="1"/><rect x="387" y="145" width="3" height="1"/></g>
<g fill="#008000"><rect x="389" y="124" width="1" height="14"/><rect x="387" y="137" width="2" height="1"/><rect x="390" y="127" width="3" height="1"/></g>
<g fill="#008000"><rect x="391" y="124" width="1" height="10"/><rect x="389" y="127" width="2" height="1"/><rect x="392" y="128" width="3" height="1"/></g>
<g fill="#008000"><rect x="393" y="117" width="1" height="32"/><rect x="391" y="128" width="2" height="1"/><rect x="394" y="124" width="3" height="1"/></g>
<g fill="#ff0000"><rect x="396" y="127" width="1" height="42"/><rect x="394" y="127" width="2" height="1"/><rect x="397" y="148" width="3" height="1"/></g>
<g fill="#ff0000"><rect x="403" y="147" width="1" height="7"/><rect x="401" y="150" width="2" height="1"/><rect x="404" y="152" width="3" height="1"/></g>
<g fill="#ff0000"><rect x="406" y="146" width="1" height="9"/><rect x="404" y="152" width="2" height="1"/><rect x="407" y="152" width="3" height="1"/></g>
<g fill="#ff0000"><rect x="408" y="147" width="1" height="20"/><rect x="406" y="152" width="2" height="1"/><rect x="409" y="164" width="3" height="1"/></g>
<g fill="#ff0000"><rect x="410" y="163" width="1" height="23"/><rect x="408" y="171" width="2" height="1"/><rect x="411" y="182" width="3" height="1"/></g>
<g fill="#ff0000"><rect x="413" y="177" width="1" height="25"/><rect x="411" y="182" width="2" height="1"/><rect x="414" y="197" width="3" height="1"/></g>
<g fill="#008000"><rect x="420" y="179" width="1" height="17"/><rect x="418" y="195" width="2" height="1"/><rect x="421" y="180" width="3" height="1"/></g>
<g fill="#ff0000"><rect x="423" y="174" width="1" height="33"/><rect x="421" y="180" width="2" height="1"/><rect x="424" y="205" width="3" height="1"/></g>
<g fill="#008000"><rect x="425" y="192" width="1" height="21"/><rect x="423" y="205" width="2" height="1"/><rect x="426" y="200" width="3" height="1"/></g>
<g fill="#ff0000"><rect x="428" y="195" width="1" height="23"/><rect x="426" y="199" width="2" height="1"/><rect x="429" y="215" width="3" height="1"/></g>
<g fill="#ff0000"><rect x="430" y="209" width="1" height="25"/><rect x="428" y="215" width="2" height="1"/><rect x="431" y="230" width="3" height="1"/></g>
<g fill="#ff0000"><rect x="437" y="228" width="1" height="25"/><rect x="435" y="232" width="2" height="1"/><rect x="438" y="248" width="3" height="1"/></g>
<g fill="#008000"><rect x="440" y="226" width="1" height="21"/><rect x="438" y="244" width="2" height="1"/><rect x="441" y="240" width="3" height="1"/></g>
<g fill="#008000"><rect x="442" y="218" width="1" height="31"/><rect x="440" y="240" width="2" height="1"/><rect x="443" y="220" width="3" height="1"/></g>
<g fill="#ff0000"><rect x="445" y="221" width="1" height="25"/><rect x="443" y="222" width="2" height="1"/><rect x="446" y="243" width="3" height="1"/></g>
<g fill="#008000"><rect x="447" y="232" width="1" height="14"/><rect x="445" y="243" width="2" height="1"/><rect x="448" y="237" width="3" height="1"/></g>
<g fill="#008000"><rect x="454" y="228" width="1" height="8"/><rect x="452" y="234" width="2" height="1"/><rect x="455" y="234" width="3" height="1"/></g>
<g fill="#ff0000"><rect x="457" y="233" width="1" height="14"/><rect x="455" y="234" width="2" height="1"/><rect x="458" y="235" width="3" height="1"/></g>
<g fill="#008000"><rect x="459" y="204" width="1" height="45"/><rect x="457" y="245" width="2" height="1"/><rect x="460" y="217" width="3" height="1"/></g>
<g fill="#ff0000"><rect x="462" y="215" width="1" height="14"/><rect x="460" y="220" width="2" height="1"/><rect x="463" y="220" width="3" height="1"/></g>
<g fill="#008000"><rect x="464" y="202" width="1" height="17"/><rect x="462" y="212" width="2" height="1"/><rect x="465" y="207" width="3" height="1"/></g>
<g fill="#ff0000"><rect x="471" y="208" width="1" height="25"/><rect x="469" y="210" width="2" height="1"/><rect x="472" y="230" width="3" height="1"/></g>
<g fill="#008000"><rect x="474" y="226" width="1" height="12"/><rect x="472" y="230" width="2" height="1"/><rect x="475" y="226" width="3" height="1"/></g>
<g fill="#008000"><rect x="476" y="221" width="1" height="7"/><rect x="474" y="226" width="2" height="1"/><rect x="477" y="225" width="3" height="1"/></g>
<g fill="#008000"><rect x="479" y="222" width="1" height="7"/><rect x="477" y="226" width="2" height="1"/><rect x="480" y="223" width="3" height="1"/></g>
<g fill="#ff0000"><rect x="481" y="210" width="1" height="14"/><rect x="479" y="219" width="2" height="1"/><rect x="482" y="220" width="3" height="1"/></g>
<g fill="#ff0000"><rect x="491" y="221" width="1" height="19"/><rect x="489" y="226" width="2" height="1"/><rect x="492" y="235" width="3" height="1"/></g>
<g fill="#008000"><rect x="493" y="230" width="1" height="15"/><rect x="491" y="238" width="2" height="1"/><rect x="494" y="230" width="3" height="1"/></g>
<g fill="#008000"><rect x="496" y="227" width="1" height="14"/><rect x="494" y="230" width="2" height="1"/><rect x="497" y="232" width="3" height="1"/></g>
<g fill="#008000"><rect x="498" y="221" width="1" height="16"/><rect x="496" y="228" width="2" height="1"/><rect x="499" y="226" width="3" height="1"/></g>
<g fill="#ff0000"><rect x="506" y="222" width="1" height="16"/><rect x="504" y="222" width="2" height="1"/><rect x="507" y="226" width="3" height="1"/></g>
<g fill="#008000"><rect x="508" y="218" width="1" height="12"/><rect x="506" y="226" width="2" height="1"/><rect x="509" y="223" width="3" height="1"/></g>
<g fill="#ff0000"><rect x="510" y="226" width="1" height="21"/><rect x="508" y="226" width="2" height="1"/><rect x="511" y="244" width="3" height="1"/></g>
<g fill="#008000"><rect x="513" y="230" width="1" height="16"/><rect x="511" y="244" width="2" height="1"/><rect x="514" y="231" width="3" height="1"/></g>
<g fill="#ff0000"><rect x="515" y="232" width="1" height="8"/><rect x="513" y="237" width="2" height="1"/><rect x="516" y="238" width="3" height="1"/></g>
<g fill="#ff0000"><rect x="523" y="235" width="1" height="19"/><rect x="521" y="238" width="2" height="1"/><rect x="524" y="248" width="3" height="1"/></g>
<g fill="#008000"><rect x="525" y="243" width="1" height="13"/><rect x="523" y="248" width="2" height="1"/><rect x="526" y="245" width="3" height="1"/></g>
<g fill="#ff0000"><rect x="528" y="228" width="1" height="15"/><rect x="526" y="239" width="2" height="1"/><rect x="529" y="240" width="3" height="1"/></g>
<g fill="#ff0000"><rect x="530" y="238" width="1" height="36"/><rect x="528" y="240" width="2" height="1"/><rect x="531" y="272" width="3" height="1"/></g>
<g fill="#ff0000"><rect x="532" y="267" width="1" height="23"/><rect x="530" y="272" width="2" height="1"/><rect x="533" y="287" width="3" height="1"/></g>
<g fill="#008000"><rect x="540" y="282" width="1" height="15"/><rect x="538" y="291" width="2" height="1"/><rect x="541" y="291" width="3" height="1"/></g>
<g fill="#ff0000"><rect x="542" y="288" width="1" height="16"/><rect x="540" y="291" width="2" height="1"/><rect x="543" y="299" width="3" height="1"/></g>
<g fill="#008000"><rect x="545" y="288" width="1" height="12"/><rect x="543" y="298" width="2" height="1"/><rect x="546" y="290" width="3" height="1"/></g>
<g fill="#ff0000"><rect x="547" y="286" width="1" height="25"/><rect x="545" y="290" width="2" height="1"/><rect x="548" y="309" width="3" height="1"/></g>
<g fill="#008000"><rect x="549" y="299" width="1" height="12"/><rect x="547" y="309" width="2" height="1"/><rect x="550" y="303" width="3" height="1"/></g>
<g fill="#008000"><rect x="557" y="288" width="1" height="22"/><rect x="555" y="299" width="2" height="1"/><rect x="558" y="292" width="3" height="1"/></g>
<g fill="#ff0000"><rect x="559" y="296" width="1" height="20"/><rect x="557" y="297" width="2" height="1"/><rect x="560" y="306" width="3" height="1"/></g>
<g fill="#ff0000"><rect x="562" y="306" width="1" height="21"/><rect x="560" y="309" width="2" height="1"/><rect x="563" y="326" width="3" height="1"/></g>
<g fill="#008000"><rect x="564" y="318" width="1" height="20"/><rect x="562" y="326" width="2" height="1"/><rect x="565" y="323" width="3" height="1"/></g>
<g fill="#008000"><rect x="567" y="315" width="1" height="15"/><rect x="565" y="323" width="2" height="1"/><rect x="568" y="323" width="3" height="1"/></g>
<g fill="#008000"><rect x="574" y="306" width="1" height="24"/><rect x="572" y="319" width="2" height="1"/><rect x="575" y="314" width="3" height="1"/></g>
<g fill="#008000"><rect x="576" y="301" width="1" height="14"/><rect x="574" y="314" width="2" height="1"/><rect x="577" y="302" width="3" height="1"/></g>
<g fill="#ff0000"><rect x="579" y="294" width="1" height="18"/><rect x="577" y="302" width="2" height="1"/><rect x="580" y="303" width="3" height="1"/></g>
<g fill="#ff0000"><rect x="581" y="300" width="1" height="13"/><rect x="579" y="302" width="2" height="1"/><rect x="582" y="304" width="3" height="1"/></g>
<g fill="#008000"><rect x="584" y="285" width="1" height="19"/><rect x="582" y="300" width="2" height="1"/><rect x="585" y="290" width="3" height="1"/></g>
<g fill="#008000"><rect x="591" y="281" width="1" height="19"/><rect x="589" y="291" width="2" height="1"/><rect x="592" y="286" width="3" height="1"/></g>
<g fill="#008000"><rect x="593" y="268" width="1" height="23"/><rect x="591" y="286" width="2" height="1"/><rect x="594" y="273" width="3" height="1"/></g>
<g fill="#008000"><rect x="596" y="266" width="1" height="13"/><rect x="594" y="275" width="2" height="1"/><rect x="597" y="273" width="3" height="1"/></g>
<g fill="#ff0000"><rect x="598" y="263" width="1" height="20"/><rect x="596" y="273" width="2" height="1"/><rect x="599" y="278" width="3" height="1"/></g>
<g fill="#ff0000"><rect x="601" y="275" width="1" height="14"/><rect x="599" y="278" width="2" height="1"/><rect x="602" y="281" width="3" height="1"/></g>
<g fill="#008000"><rect x="608" y="267" width="1" height="18"/><rect x="606" y="284" width="2" height="1"/><rect x="609" y="274" width="3" height="1"/></g>
<g fill="#008000"><rect x="610" y="252" width="1" height="23"/><rect x="608" y="274" width="2" height="1"/><rect x="611" y="268" width="3" height="1"/></g>
<g fill="#008000"><rect x="613" y="245" width="1" height="20"/><rect x="611" y="261" width="2" height="1"/><rect x="614" y="257" width="3" height="1"/></g>
<g fill="#ff0000"><rect x="615" y="256" width="1" height="13"/><rect x="613" y="257" width="2" height="1"/><rect x="616" y="258" width="3" height="1"/></g>
<g fill="#ff0000"><rect x="618" y="258" width="1" height="11"/><rect x="616" y="258" width="2" height="1"/><rect x="619" y="264" width="3" height="1"/></g>
<g fill="#008000"><rect x="625" y="259" width="1" height="17"/><rect x="623" y="267" width="2" height="1"/><rect x="626" y="261" width="3" height="1"/></g>
<g fill="#ff0000"><rect x="628" y="261" width="1" height="14"/><rect x="626" y="261" width="2" height="1"/><rect x="629" y="273" width="3" height="1"/></g>
<g fill="#ff0000"><rect x="630" y="272" width="1" height="47"/><rect x="628" y="279" width="2" height="1"/><rect x="631" y="300" width="3" height="1"/></g>
<g fill="#ff0000"><rect x="632" y="287" width="1" height="16"/><rect x="630" y="300" width="2" height="1"/><rect x="633" y="300" width="3" height="1"/></g>
<g fill="#ff0000"><rect x="635" y="293" width="1" height="16"/><rect x="633" y="300" width="2" height="1"/><rect x="636" y="306" width="3" height="1"/></g>
<g fill="#008000"><rect x="642" y="293" width="1" height="30"/><rect x="640" y="312" width="2" height="1"/><rect x="643" y="295" width="3" height="1"/></g>
<g fill="#008000"><rect x="645" y="283" width="1" height="16"/><rect x="643" y="295" width="2" height="1"/><rect x="646" y="285" width="3" height="1"/></g>
<g fill="#008000"><rect x="647" y="237" width="1" height="41"/><rect x="645" y="259" width="2" height="1"/><rect x="648" y="240" width="3" height="1"/></g>
<g fill="#008000"><rect x="649" y="211" width="1" height="23"/><rect x="647" y="228" width="2" height="1"/><rect x="650" y="221" width="3" height="1"/></g>
<g fill="#ff0000"><rect x="652" y="218" width="1" height="23"/><rect x="650" y="229" width="2" height="1"/><rect x="653" y="234" width="3" height="1"/></g>
<g fill="#008000"><rect x="659" y="222" width="1" height="19"/><rect x="657" y="235" width="2" height="1"/><rect x="660" y="225" width="3" height="1"/></g>
<g fill="#008000"><rect x="662" y="205" width="1" height="21"/><rect x="660" y="225" width="2" height="1"/><rect x="663" y="206" width="3" height="1"/></g>
<g fill="#008000"><rect x="664" y="196" width="1" height="18"/><rect x="662" y="206" width="2" height="1"/><rect x="665" y="198" width="3" height="1"/></g>
<g fill="#ff0000"><rect x="667" y="191" width="1" height="20"/><rect x="665" y="202" width="2" height="1"/><rect x="668" y="209" width="3" height="1"/></g>
<g fill="#ff0000"><rect x="669" y="206" width="1" height="17"/><rect x="667" y="209" width="2" height="1"/><rect x="670" y="216" width="3" height="1"/></g>
<g fill="#ff0000"><rect x="676" y="211" width="1" height="13"/><rect x="674" y="216" width="2" height="1"/><rect x="677" y="218" width="3" height="1"/></g>
<g fill="#008000"><rect x="679" y="212" width="1" height="14"/><rect x="677" y="218" width="2" height="1"/><rect x="680" y="216" width="3" height="1"/></g>
<g fill="#008000"><rect x="681" y="202" width="1" height="18"/><rect x="679" y="212" width="2" height="1"/><rect x="682" y="206" width="3" height="1"/></g>
<g fill="#ff0000"><rect x="684" y="172" width="1" height="27"/><rect x="682" y="194" width="2" height="1"/><rect x="685" y="195" width="3" height="1"/></g>
<g fill="#008000"><rect x="686" y="168" width="1" height="28"/><rect x="684" y="195" width="2" height="1"/><rect x="687" y="178" width="3" height="1"/></g>
<g fill="#ff0000"><rect x="693" y="174" width="1" height="13"/><rect x="691" y="178" width="2" height="1"/><rect x="694" y="179" width="3" height="1"/></g>
<g fill="#008000"><rect x="696" y="161" width="1" height="16"/><rect x="694" y="173" width="2" height="1"/><rect x="697" y="163" width="3" height="1"/></g>
<g fill="#008000"><rect x="698" y="158" width="1" height="8"/><rect x="696" y="163" width="2" height="1"/><rect x="699" y="161" width="3" height="1"/></g>
<g fill="#008000"><rect x="703" y="155" width="1" height="7"/><rect x="701" y="158" width="2" height="1"/><rect x="704" y="158" width="3" height="1"/></g>
<g fill="#008000"><rect x="710" y="150" width="1" height="17"/><rect x="708" y="163" width="2" height="1"/><rect x="711" y="159" width="3" height="1"/></g>
<g fill="#ff0000"><rect x="713" y="161" width="1" height="12"/><rect x="711" y="164" width="2" height="1"/><rect x="714" y="168" width="3" height="1"/></g>
<g fill="#008000"><rect x="715" y="145" width="1" height="28"/><rect x="713" y="168" width="2" height="1"/><rect x="716" y="146" width="3" height="1"/></g>
<g fill="#008000"><rect x="718" y="122" width="1" height="31"/><rect x="716" y="149" width="2" height="1"/><rect x="719" y="127" width="3" height="1"/></g>
<g fill="#008000"><rect x="720" y="118" width="1" height="20"/><rect x="718" y="127" width="2" height="1"/><rect x="721" y="120" width="3" height="1"/></g>
<g fill="#ff0000"><rect x="728" y="99" width="1" height="34"/><rect x="726" y="115" width="2" height="1"/><rect x="729" y="124" width="3" height="1"/></g>
<g fill="#ff0000"><rect x="730" y="118" width="1" height="12"/><rect x="728" y="124" width="2" height="1"/><rect x="731" y="128" width="3" height="1"/></g>
<g fill="#008000"><rect x="732" y="99" width="1" height="31"/><rect x="730" y="128" width="2" height="1"/><rect x="733" y="104" width="3" height="1"/></g>
<g fill="#008000"><rect x="735" y="80" width="1" height="36"/><rect x="733" y="104" width="2" height="1"/><rect x="736" y="91" width="3" height="1"/></g>
<g fill="#008000"><rect x="737" y="81" width="1" height="14"/><rect x="735" y="91" width="2" height="1"/><rect x="738" y="91" width="3" height="1"/></g>
<g fill="#ff0000"><rect x="745" y="78" width="1" height="23"/><rect x="743" y="88" width="2" height="1"/><rect x="746" y="90" width="3" height="1"/></g>
<g fill="#ff0000"><rect x="747" y="81" width="1" height="15"/><rect x="745" y="90" width="2" height="1"/><rect x="748" y="93" width="3" height="1"/></g>
<g fill="#008000"><rect x="749" y="79" width="1" height="16"/><rect x="747" y="94" width="2" height="1"/><rect x="750" y="88" width="3" height="1"/></g>
<g fill="#ff0000"><rect x="752" y="87" width="1" height="25"/><rect x="750" y="88" width="2" height="1"/><rect x="753" y="106" width="3" height="1"/></g>
<g fill="#008000"><rect x="754" y="104" width="1" height="15"/><rect x="752" y="111" width="2" height="1"/><rect x="755" y="106" width="3" height="1"/></g>
<g fill="#008000"><rect x="762" y="97" width="1" height="16"/><rect x="760" y="109" width="2" height="1"/><rect x="763" y="101" width="3" height="1"/></g>
<g fill="#008000"><rect x="764" y="101" width="1" height="13"/><rect x="762" y="105" width="2" height="1"/><rect x="765" y="102" width="3" height="1"/></g>
<g fill="#008000"><rect x="767" y="100" width="1" height="6"/><rect x="765" y="102" width="2" height="1"/><rect x="768" y="102" width="3" height="1"/></g>
<g fill="#008000"><rect x="771" y="97" width="1" height="9"/><rect x="769" y="104" width="2" height="1"/><rect x="772" y="97" width="3" height="1"/></g>
<g fill="#008000"><rect x="779" y="95" width="1" height="7"/><rect x="777" y="97" width="2" height="1"/><rect x="780" y="96" width="3" height="1"/></g>
<g fill="#ff0000"><rect x="781" y="94" width="1" height="13"/><rect x="779" y="94" width="2" height="1"/><rect x="782" y="104" width="3" height="1"/></g>
<g fill="#ff0000"><rect x="784" y="104" width="1" height="13"/><rect x="782" y="109" width="2" height="1"/><rect x="785" y="116" width="3" height="1"/></g>
<g fill="#ff0000"><rect x="788" y="119" width="1" height="25"/><rect x="786" y="119" width="2" height="1"/><rect x="789" y="137" width="3" height="1"/></g>
<g fill="#008000"><rect x="796" y="117" width="1" height="31"/><rect x="794" y="139" width="2" height="1"/><rect x="797" y="121" width="3" height="1"/></g>
<g fill="#008000"><rect x="798" y="96" width="1" height="26"/><rect x="796" y="121" width="2" height="1"/><rect x="799" y="100" width="3" height="1"/></g>
<g fill="#ff0000"><rect x="801" y="93" width="1" height="12"/><rect x="799" y="98" width="2" height="1"/><rect x="802" y="98" width="3" height="1"/></g>
<g fill="#008000"><rect x="803" y="79" width="1" height="19"/><rect x="801" y="97" width="2" height="1"/><rect x="804" y="89" width="3" height="1"/></g>
<g fill="#008000"><rect x="806" y="78" width="1" height="15"/><rect x="804" y="89" width="2" height="1"/><rect x="807" y="82" width="3" height="1"/></g>
<g fill="#008000"><rect x="813" y="77" width="1" height="11"/><rect x="811" y="85" width="2" height="1"/><rect x="814" y="77" width="3" height="1"/></g>
<g fill="#ff0000"><rect x="815" y="76" width="1" height="14"/><rect x="813" y="76" width="2" height="1"/><rect x="816" y="86" width="3" height="1"/></g>
<g fill="#008000"><rect x="818" y="64" width="1" height="26"/><rect x="816" y="86" width="2" height="1"/><rect x="819" y="65" width="3" height="1"/></g>
<g fill="#ff0000"><rect x="820" y="62" width="1" height="15"/><rect x="818" y="64" width="2" height="1"/><rect x="821" y="72" width="3" height="1"/></g>
<g fill="#ff0000"><rect x="823" y="73" width="1" height="15"/><rect x="821" y="73" width="2" height="1"/><rect x="824" y="77" width="3" height="1"/></g>
<g fill="#ff0000"><rect x="832" y="78" width="1" height="18"/><rect x="830" y="80" width="2" height="1"/><rect x="833" y="94" width="3" height="1"/></g>
<g fill="#008000"><rect x="835" y="81" width="1" height="18"/><rect x="833" y="92" width="2" height="1"/><rect x="836" y="89" width="3" height="1"/></g>
<g fill="#008000"><rect x="837" y="77" width="1" height="18"/><rect x="835" y="89" width="2" height="1"/><rect x="838" y="89" width="3" height="1"/></g>
<g fill="#ff0000"><rect x="840" y="81" width="1" height="30"/><rect x="838" y="85" width="2" height="1"/><rect x="841" y="103" width="3" height="1"/></g>
<g fill="#ff0000"><rect x="847" y="94" width="1" height="39"/><rect x="845" y="98" width="2" height="1"/><rect x="848" y="114" width="3" height="1"/></g>
<g fill="#ff0000"><rect x="849" y="113" width="1" height="27"/><rect x="847" y="117" width="2" height="1"/><rect x="850" y="134" width="3" height="1"/></g>
<g fill="#008000"><rect x="852" y="103" width="1" height="34"/><rect x="850" y="130" width="2" height="1"/><rect x="853" y="130" width="3" height="1"/></g>
<g fill="#ff0000"><rect x="854" y="123" width="1" height="23"/><rect x="852" y="130" width="2" height="1"/><rect x="855" y="140" width="3" height="1"/></g>
<g fill="#008000"><rect x="857" y="130" width="1" height="17"/><rect x="855" y="138" width="2" height="1"/><rect x="858" y="133" width="3" height="1"/></g>
<g fill="#ff0000"><rect x="864" y="117" width="1" height="21"/><rect x="862" y="132" width="2" height="1"/><rect x="865" y="133" width="3" height="1"/></g>
<g fill="#ff0000"><rect x="867" y="143" width="1" height="66"/><rect x="865" y="147" width="2" height="1"/><rect x="868" y="204" width="3" height="1"/></g>
<g fill="#008000"><rect x="869" y="153" width="1" height="42"/><rect x="867" y="178" width="2" height="1"/><rect x="870" y="162" width="3" height="1"/></g>
<g fill="#008000"><rect x="871" y="109" width="1" height="42"/><rect x="869" y="148" width="2" height="1"/><rect x="872" y="145" width="3" height="1"/></g>
<g fill="#ff0000"><rect x="874" y="141" width="1" height="39"/><rect x="872" y="145" width="2" height="1"/><rect x="875" y="164" width="3" height="1"/></g>
<g fill="#ff0000"><rect x="881" y="145" width="1" height="38"/><rect x="879" y="160" width="2" height="1"/><rect x="882" y="174" width="3" height="1"/></g>
<g fill="#ff0000"><rect x="884" y="166" width="1" height="20"/><rect x="882" y="176" width="2" height="1"/><rect x="885" y="179" width="3" height="1"/></g>
<g fill="#ff0000"><rect x="886" y="185" width="1" height="25"/><rect x="884" y="185" width="2" height="1"/><rect x="887" y="207" width="3" height="1"/></g>
<g fill="#ff0000"><rect x="888" y="194" width="1" height="81"/><rect x="886" y="207" width="2" height="1"/><rect x="889" y="254" width="3" height="1"/></g>
<g fill="#ff0000"><rect x="891" y="243" width="1" height="18"/><rect x="889" y="249" width="2" height="1"/><rect x="892" y="259" width="3" height="1"/></g>
<g fill="#ff0000"><rect x="901" y="229" width="1" height="23"/><rect x="899" y="234" width="2" height="1"/><rect x="902" y="246" width="3" height="1"/></g>
<g fill="#ff0000"><rect x="903" y="237" width="1" height="19"/><rect x="901" y="246" width="2" height="1"/><rect x="904" y="246" width="3" height="1"/></g>
<g fill="#008000"><rect x="906" y="231" width="1" height="24"/><rect x="904" y="251" width="2" height="1"/><rect x="907" y="232" width="3" height="1"/></g>
<g fill="#ff0000"><rect x="908" y="229" width="1" height="21"/><rect x="906" y="229" width="2" height="1"/><rect x="909" y="244" width="3" height="1"/></g>
</g>
<polyline points="30.5,502.3 32.5,514.5 35.5,513.5 37.5,505.2 45.5,490.8 47.5,495.6 50.5,493.5 52.5,479.4 54.5,466.5 62.5,471.3 64.5,513.2 67.5,520.4 69.5,515.3 71.5,514.3 79.5,511.6 81.5,512.4 84.5,511.6 86.5,517.2 89.5,522.5 96.5,522.5 98.5,515.6 101.5,503.9 103.5,504.4 106.5,506.5 113.5,496.4 115.5,493.5 118.5,492.9 120.5,492.4 123.5,527.3 130.5,533.2 132.5,542.8 135.5,524.4 137.5,525.2 140.5,519.6 147.5,517.7 150.5,516.4 152.5,521.5 154.5,521.5 157.5,521.5 164.5,528.4 167.5,517.2 169.5,516.4 171.5,517.2 174.5,522.5 181.5,524.4 184.5,513.5 186.5,513.2 189.5,512.1 191.5,511.9 198.5,518.0 201.5,518.3 203.5,520.4 206.5,494.8 208.5,492.4 215.5,490.5 218.5,503.9 220.5,504.4 223.5,496.4 225.5,492.7 232.5,488.4 235.5,485.7 237.5,497.5 240.5,501.2 242.5,501.4 250.5,501.4 252.5,493.7 254.5,502.0 257.5,511.6 259.5,507.6 267.5,510.8 269.5,511.9 271.5,506.8 274.5,508.7 276.5,505.5 284.5,514.8 286.5,515.6 289.5,514.8 291.5,512.9 293.5,518.3 301.5,510.5 303.5,512.4 306.5,506.0 308.5,506.0 310.5,523.1 318.5,509.2 320.5,509.2 323.5,523.6 325.5,525.5 328.5,521.2 335.5,512.4 337.5,503.6 340.5,516.4 342.5,508.4 345.5,508.4 352.5,512.1 354.5,513.5 357.5,516.1 359.5,517.7 362.5,535.6 369.5,529.5 371.5,534.8 374.5,521.5 376.5,513.5 379.5,516.4 386.5,523.6 389.5,507.6 391.5,507.3 393.5,506.8 396.5,524.4 403.5,527.9 406.5,527.3 408.5,535.9 410.5,545.2 413.5,550.3 420.5,535.6 423.5,545.5 425.5,541.5 428.5,546.8 430.5,551.3 437.5,556.4 440.5,550.0 442.5,536.4 445.5,544.4 447.5,540.7 454.5,539.0 457.5,538.5 459.5,526.5 462.5,528.4 464.5,520.7 471.5,530.5 474.5,527.6 476.5,526.5 479.5,526.0 481.5,524.1 489.5,524.1 491.5,532.4 493.5,528.9 496.5,527.3 498.5,525.2 506.5,523.1 508.5,522.5 510.5,536.4 513.5,524.7 515.5,529.5 523.5,534.3 525.5,531.6 528.5,527.6 530.5,543.6 532.5,549.4 540.5,550.3 542.5,553.5 545.5,545.5 547.5,552.4 549.5,547.6 557.5,538.8 559.5,544.4 562.5,549.5 564.5,549.7 567.5,549.2 574.5,540.7 576.5,531.6 579.5,532.4 581.5,532.4 584.5,521.7 591.5,518.3 593.5,509.2 596.5,508.7 598.5,515.6 601.5,515.6 608.5,505.2 610.5,498.5 613.5,498.8 615.5,505.2 618.5,504.4 625.5,502.8 628.5,513.2 630.5,532.1 632.5,532.4 635.5,535.3 642.5,526.0 645.5,517.2 647.5,491.6 649.5,484.4 652.5,493.5 659.5,488.4 662.5,482.8 664.5,480.4 667.5,489.2 669.5,493.5 676.5,495.9 679.5,494.8 681.5,490.0 684.5,484.4 686.5,478.3 693.5,479.6 696.5,473.5 698.5,473.2 701.5,473.2 703.5,471.6 710.5,473.5 713.5,483.6 715.5,474.0 718.5,467.6 720.5,465.2 728.5,469.2 730.5,474.3 732.5,466.8 735.5,463.3 737.5,462.5 745.5,462.5 747.5,467.1 749.5,465.5 752.5,485.7 754.5,485.7 762.5,483.3 764.5,483.6 767.5,484.4 769.5,484.4 771.5,481.5 779.5,480.7 781.5,492.4 784.5,504.9 786.5,505.2 788.5,525.5 796.5,511.6 798.5,497.5 801.5,496.4 803.5,491.6 806.5,487.6 813.5,484.7 815.5,493.2 818.5,483.6 820.5,489.2 823.5,493.2 830.5,493.2 832.5,508.6 835.5,504.8 837.5,503.0 840.5,516.5 847.5,523.5 849.5,534.5 852.5,532.0 854.5,536.5 857.5,530.0 864.5,530.0 867.5,555.0 869.5,535.0 871.5,524.5 874.5,530.5 881.5,533.0 884.5,535.0 886.5,543.5 888.5,552.2 891.5,553.7 898.5,553.7 901.5,548.0 903.5,546.0 906.5,539.5 908.5,542.5" fill="none" stroke="#064308" stroke-width="2.2" stroke-linejoin="round" stroke-linecap="round"/>
<g shape-rendering="crispEdges" fill="#000">
<rect x="918" y="45" width="2" height="297"/><rect x="918" y="44" width="2" height="1" fill="#8a8a8a"/>
<rect x="920" y="49" width="4" height="1"/>
<rect x="920" y="90" width="4" height="1"/>
<rect x="920" y="131" width="4" height="1"/>
<rect x="920" y="172" width="4" height="1"/>
<rect x="920" y="214" width="4" height="1"/>
<rect x="920" y="255" width="4" height="1"/>
<rect x="920" y="296" width="4" height="1"/>
<rect x="918" y="352" width="2" height="98"/><rect x="918" y="450" width="2" height="1" fill="#777"/>
<rect x="920" y="352" width="4" height="1"/>
<rect x="920" y="377" width="4" height="1"/>
<rect x="920" y="401" width="4" height="1"/>
<rect x="920" y="426" width="4" height="1"/>
<rect x="920" y="358" width="2" height="1"/>
<rect x="920" y="364" width="2" height="1"/>
<rect x="920" y="370" width="2" height="1"/>
<rect x="920" y="383" width="2" height="1"/>
<rect x="920" y="389" width="2" height="1"/>
<rect x="920" y="395" width="2" height="1"/>
<rect x="920" y="407" width="2" height="1"/>
<rect x="920" y="413" width="2" height="1"/>
<rect x="920" y="419" width="2" height="1"/>
<rect x="920" y="432" width="2" height="1"/>
<rect x="920" y="438" width="2" height="1"/>
<rect x="920" y="444" width="2" height="1"/>
<rect x="918" y="460" width="2" height="99"/>
<rect x="920" y="462" width="4" height="1"/>
<rect x="920" y="486" width="4" height="1"/>
<rect x="920" y="509" width="4" height="1"/>
<rect x="920" y="533" width="4" height="1"/>
<rect x="920" y="468" width="2" height="1"/>
<rect x="920" y="474" width="2" height="1"/>
<rect x="920" y="480" width="2" height="1"/>
<rect x="920" y="492" width="2" height="1"/>
<rect x="920" y="498" width="2" height="1"/>
<rect x="920" y="503" width="2" height="1"/>
<rect x="920" y="515" width="2" height="1"/>
<rect x="920" y="521" width="2" height="1"/>
<rect x="920" y="527" width="2" height="1"/>
<rect x="920" y="539" width="2" height="1"/>
<rect x="920" y="545" width="2" height="1"/>
<rect x="920" y="551" width="2" height="1"/>
<rect x="20" y="557" width="900" height="2"/>
<rect x="40" y="559" width="1" height="4"/>
<rect x="115" y="559" width="1" height="4"/>
<rect x="189" y="559" width="1" height="4"/>
<rect x="264" y="559" width="1" height="4"/>
<rect x="337" y="559" width="1" height="4"/>
<rect x="413" y="559" width="1" height="4"/>
<rect x="489" y="559" width="1" height="4"/>
<rect x="562" y="559" width="1" height="4"/>
<rect x="637" y="559" width="1" height="4"/>
<rect x="710" y="559" width="1" height="4"/>
<rect x="786" y="559" width="1" height="4"/>
<rect x="862" y="559" width="1" height="4"/>
</g>
<g font-size="11px" fill="#000" text-anchor="middle">
<text x="40.5" y="575">3/1/25</text>
<text x="115.5" y="575">4/1/25</text>
<text x="189.5" y="575">5/1/25</text>
<text x="264.5" y="575">6/1/25</text>
<text x="337.5" y="575">7/1/25</text>
<text x="413.5" y="575">8/1/25</text>
<text x="489.5" y="575">9/1/25</text>
<text x="562.5" y="575">10/1/25</text>
<text x="637.5" y="575">11/1/25</text>
<text x="710.5" y="575">12/1/25</text>
<text x="786.5" y="575">1/1/26</text>
<text x="862.5" y="575">2/1/26</text>
</g>
<text x="927" y="52.7" fill="#1000c8" font-size="11px" textLength="21.0" lengthAdjust="spacingAndGlyphs">195</text>
<text x="927" y="93.7" fill="#1000c8" font-size="11px" textLength="21.0" lengthAdjust="spacingAndGlyphs">187</text>
<text x="927" y="134.7" fill="#1000c8" font-size="11px" textLength="21.0" lengthAdjust="spacingAndGlyphs">179</text>
<text x="927" y="175.7" fill="#1000c8" font-size="11px" textLength="21.0" lengthAdjust="spacingAndGlyphs">171</text>
<text x="927" y="217.7" fill="#1000c8" font-size="11px" textLength="21.0" lengthAdjust="spacingAndGlyphs">163</text>
<text x="927" y="258.7" fill="#1000c8" font-size="11px" textLength="21.0" lengthAdjust="spacingAndGlyphs">156</text>
<text x="927" y="299.7" fill="#1000c8" font-size="11px" textLength="21.0" lengthAdjust="spacingAndGlyphs">150</text>
<text x="927" y="355.7" fill="#18a4b4" font-size="11px" textLength="21.0" lengthAdjust="spacingAndGlyphs">345</text>
<text x="927" y="380.7" fill="#18a4b4" font-size="11px" textLength="21.0" lengthAdjust="spacingAndGlyphs">259</text>
<text x="927" y="404.7" fill="#18a4b4" font-size="11px" textLength="21.0" lengthAdjust="spacingAndGlyphs">173</text>
<text x="927" y="429.7" fill="#18a4b4" font-size="11px" textLength="14.0" lengthAdjust="spacingAndGlyphs">86</text>
<text x="927" y="465.7" fill="#08003a" font-size="11px" textLength="14.0" lengthAdjust="spacingAndGlyphs">81</text>
<text x="927" y="489.7" fill="#08003a" font-size="11px" textLength="14.0" lengthAdjust="spacingAndGlyphs">67</text>
<text x="927" y="512.7" fill="#08003a" font-size="11px" textLength="14.0" lengthAdjust="spacingAndGlyphs">53</text>
<text x="927" y="536.7" fill="#08003a" font-size="11px" textLength="14.0" lengthAdjust="spacingAndGlyphs">39</text>
<text transform="translate(946,498.6) rotate(90)" font-size="12.5px" fill="#1a4c0c" stroke="#1a4c0c" stroke-width="0.35" textLength="15.2" lengthAdjust="spacingAndGlyphs">RS</text>
<g fill="#1f5210"><rect x="946" y="515.8" width="9" height="1.2"/><rect x="946" y="514.9" width="1.1" height="3.2"/><rect x="953.9" y="514.9" width="1.1" height="3.2"/></g>
<g shape-rendering="crispEdges"><rect x="37" y="583" width="5" height="7" fill="#f09a38"/><rect x="43" y="586" width="1" height="1" fill="#f6c48c"/>
</g><line x1="177" y1="586.4" x2="183" y2="586.4" stroke="#00a8a8" stroke-width="1.5"/><line x1="317.6" y1="586.4" x2="322.6" y2="586.4" stroke="#0a4a12" stroke-width="2.6" stroke-linecap="round"/>
<g font-size="11px">
<text x="50.3" y="590.6" fill="#f0a040" xml:space="preserve">Price: 159.19  02/20/26</text>
<text x="190.3" y="590.6" fill="#1fa8b4" xml:space="preserve">Volume: 87.88  02/20/26</text>
<text x="330.3" y="590.6" fill="#1e4a14" xml:space="preserve" textLength="71" lengthAdjust="spacingAndGlyphs">RSI 14: 33.027</text>
</g>
</svg></body></html>
